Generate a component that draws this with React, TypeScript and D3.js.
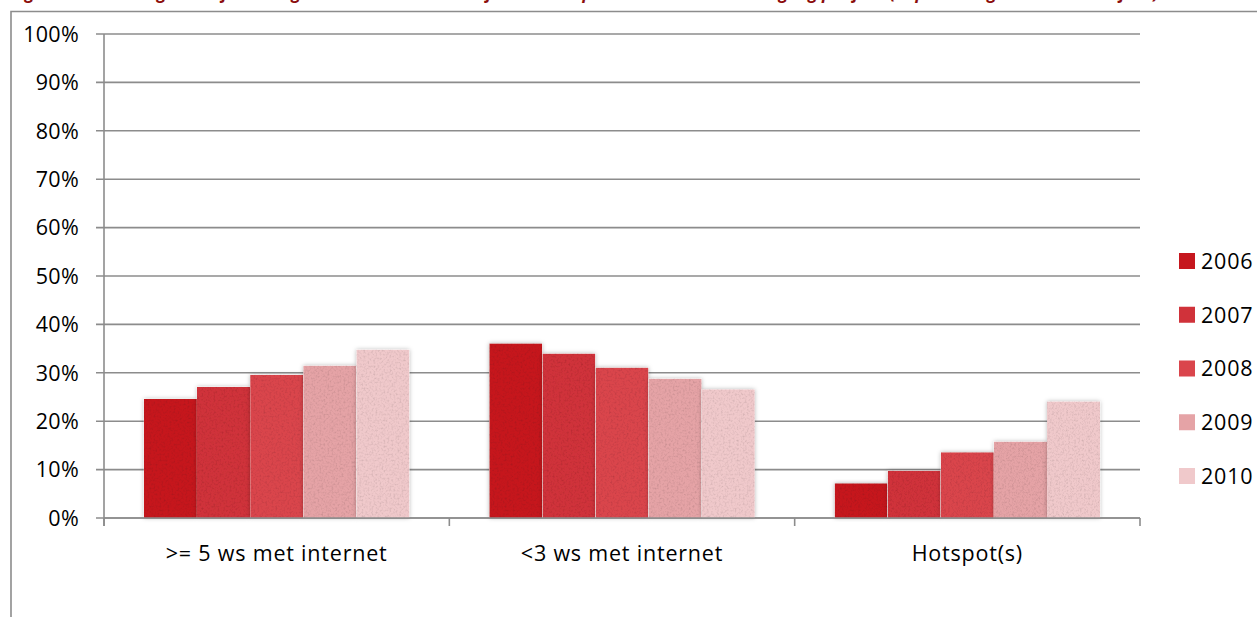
import React from "react";
import * as d3 from "d3";

const categories = [">= 5 ws met internet", "<3 ws met internet", "Hotspot(s)"];
const years = ["2006", "2007", "2008", "2009", "2010"];
const values2006 = [0.246, 0.361, 0.072];
const values2007 = [0.271, 0.340, 0.098];
const values2008 = [0.296, 0.311, 0.136];
const values2009 = [0.315, 0.288, 0.158];
const values2010 = [0.348, 0.266, 0.241];
const seriesValues = [values2006, values2007, values2008, values2009, values2010];
const colors = ["#C6171E", "#D0323A", "#DA454C", "#E5A3A6", "#F0C9CB"];
const yTicks = [0, 0.1, 0.2, 0.3, 0.4, 0.5, 0.6, 0.7, 0.8, 0.9, 1.0];
const title =
  "Figuur 3: Percentage bedrijven dat gebruikmaakt van een of meer werkplekken met internettoegang per jaar (in percentage van alle bedrijven)";

const W = 1257;
const H = 617;
const FONT = "'Open Sans', 'DejaVu Sans', sans-serif";
const GRID = "#8c8c8c";
const FS = 21.5;
const LS = 0.8;

export default function App() {
  const left = 104;
  const right = 1140;
  const top = 34;
  const bottom = 518;

  const y = d3.scaleLinear().domain([0, 1]).range([bottom, top]);
  const x0 = d3.scaleBand<string>().domain(categories).range([left, right]).paddingInner(0).paddingOuter(0);
  const band = x0.bandwidth();
  const barW = band / 6.5;
  const x1 = d3.scaleBand<string>().domain(years).range([0, barW * 5]).padding(0);
  const groupOffset = barW * 0.75;

  const legendY = d3.scalePoint<string>().domain(years).range([261, 476]);

  return (
    <svg
      width={W}
      height={H}
      style={{ position: "absolute", left: 0, top: 0, background: "#fff" }}
      fontFamily={FONT}
    >
      <defs>
        <filter id="tex" x="-10%" y="-10%" width="120%" height="120%">
          <feTurbulence type="fractalNoise" baseFrequency="0.5" numOctaves="3" seed="7" result="n" />
          <feColorMatrix in="n" type="saturate" values="0" result="g" />
          <feComponentTransfer in="g" result="g2">
            <feFuncR type="linear" slope="0.7" intercept="0.62" />
            <feFuncG type="linear" slope="0.7" intercept="0.62" />
            <feFuncB type="linear" slope="0.7" intercept="0.62" />
            <feFuncA type="linear" slope="0" intercept="1" />
          </feComponentTransfer>
          <feBlend in="SourceGraphic" in2="g2" mode="multiply" result="b" />
          <feComposite in="b" in2="SourceGraphic" operator="in" result="texd" />
          <feGaussianBlur in="SourceAlpha" stdDeviation="2" result="blur" />
          <feFlood floodColor="#000" floodOpacity="0.28" />
          <feComposite in2="blur" operator="in" result="shadow" />
          <feMerge>
            <feMergeNode in="shadow" />
            <feMergeNode in="texd" />
          </feMerge>
        </filter>
      </defs>

      {/* title, cut off at the top edge as in the reference */}
      <text x={11} y={-1} fontSize={17} fontWeight="bold" fontStyle="italic" fill="#8B0D0D">
        {title}
      </text>

      {/* outer frame (continues beyond the window) */}
      <path d={`M11,${H + 5} L11,11.5 L${W + 5},11.5`} fill="none" stroke={GRID} strokeWidth={1.6} />

      {/* gridlines */}
      {yTicks.map((t) => (
        <line key={"g" + t} x1={left - 8} x2={right} y1={y(t)} y2={y(t)} stroke={GRID} strokeWidth={1.6} />
      ))}

      {/* y axis */}
      <line x1={left} x2={left} y1={top} y2={bottom + 8} stroke={GRID} strokeWidth={1.6} />
      {yTicks.map((t) => (
        <text
          key={"yl" + t}
          x={79}
          y={y(t)}
          dy="0.36em"
          textAnchor="end"
          fontSize={FS}
          letterSpacing={0.3}
          fill="#000"
        >
          {d3.format(".0%")(t)}
        </text>
      ))}

      {/* bars */}
      {categories.map((c, ci) => (
        <g key={c} transform={`translate(${(x0(c) as number) + groupOffset},0)`}>
          {years.map((yr, si) => {
            const v = seriesValues[si][ci];
            return (
              <rect
                key={yr}
                x={x1(yr) as number}
                y={y(v)}
                width={x1.bandwidth()}
                height={y(0) - y(v)}
                fill={colors[si]}
                filter="url(#tex)"
              />
            );
          })}
        </g>
      ))}

      {/* x axis */}
      <line x1={left} x2={right} y1={bottom} y2={bottom} stroke={GRID} strokeWidth={1.6} />
      {[...categories.map((c) => x0(c) as number), right].map((xx, i) => (
        <line key={"xt" + i} x1={xx} x2={xx} y1={bottom} y2={bottom + 8} stroke={GRID} strokeWidth={1.6} />
      ))}
      {categories.map((c) => (
        <text
          key={"xl" + c}
          x={(x0(c) as number) + band / 2}
          y={561}
          textAnchor="middle"
          fontSize={FS}
          letterSpacing={LS}
          fill="#000"
        >
          {c}
        </text>
      ))}

      {/* legend */}
      {years.map((yr, i) => (
        <g key={"lg" + yr} transform={`translate(0,${legendY(yr)})`}>
          <rect x={1179} y={-8} width={16} height={16} fill={colors[i]} />
          <text x={1201} y={0} dy="0.36em" fontSize={FS} letterSpacing={LS} fill="#000">
            {yr}
          </text>
        </g>
      ))}
    </svg>
  );
}
